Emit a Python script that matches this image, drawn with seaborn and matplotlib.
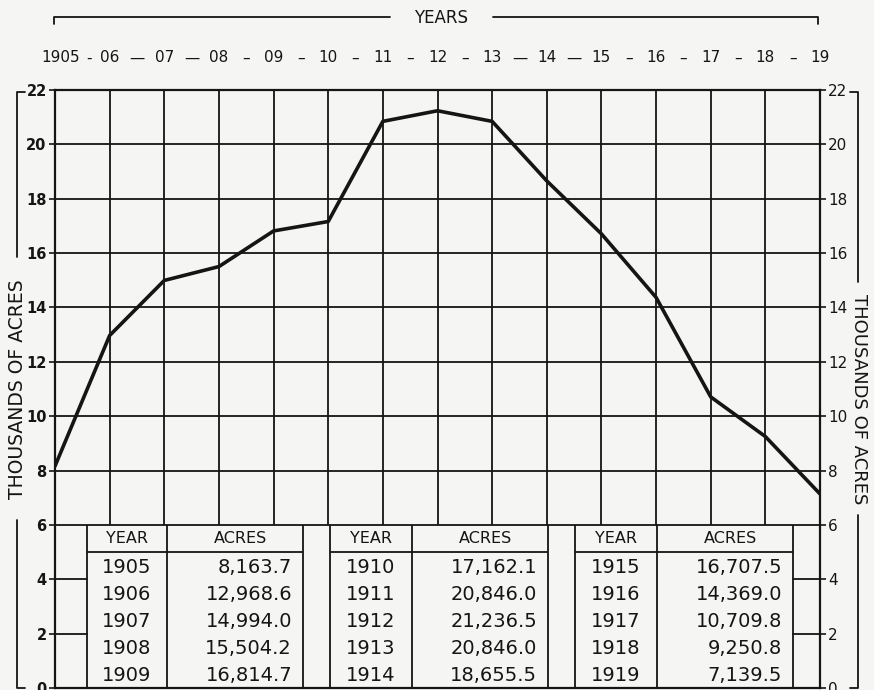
import numpy as np
import pandas as pd
import seaborn as sns
import matplotlib.pyplot as plt
from matplotlib.lines import Line2D
import matplotlib.transforms as mtransforms

# acreage by year, as given in the table on the chart
years = [1905, 1906, 1907, 1908, 1909, 1910, 1911, 1912,
         1913, 1914, 1915, 1916, 1917, 1918, 1919]
acres = [8163.7, 12968.6, 14994.0, 15504.2, 16814.7, 17162.1, 20846.0, 21236.5,
         20846.0, 18655.5, 16707.5, 14369.0, 10709.8, 9250.8, 7139.5]
acres_text = ["8,163.7", "12,968.6", "14,994.0", "15,504.2", "16,814.7",
              "17,162.1", "20,846.0", "21,236.5", "20,846.0", "18,655.5",
              "16,707.5", "14,369.0", "10,709.8", "9,250.8", "7,139.5"]
top_labels = ["1905", "06", "07", "08", "09", "10", "11", "12",
              "13", "14", "15", "16", "17", "18", "19"]
separators = ["-", "—", "—", "–", "–", "–", "–", "–", "—", "—", "–", "–", "–", "–"]
y_ticks = list(range(0, 23, 2))

INK = "#151515"
PAPER = "#f5f5f3"

sns.set_style("white")
plt.rcParams['font.family'] = ['DejaVu Sans']

W, H = 874, 690
fig = plt.figure(figsize=(W / 100, H / 100), dpi=100, facecolor=PAPER)
# axes box in pixels: left 55, right 820, top 90, bottom 688
ax = fig.add_axes([55 / W, 1 - 688 / H, (820 - 55) / W, (688 - 90) / H])
ax.set_facecolor(PAPER)

df = pd.DataFrame({"year": years, "thousands": np.array(acres) / 1000})

ax.set_xlim(years[0], years[-1])
ax.set_ylim(0, 22)

# grid: full above 6, only side strips below 6
strip_l = (1905.586 - years[0]) / (years[-1] - years[0])
strip_r = (1918.507 - years[0]) / (years[-1] - years[0])
for y in y_ticks[1:-1]:
    if y >= 6:
        ax.axhline(y, color=INK, lw=1.3, zorder=1)
    else:
        ax.axhline(y, xmax=strip_l, color=INK, lw=1.3, zorder=1)
        ax.axhline(y, xmin=strip_r, color=INK, lw=1.3, zorder=1)
ax.vlines(years[1:-1], 6, 22, color=INK, lw=1.3, zorder=1)

sns.lineplot(data=df, x="year", y="thousands", color=INK, lw=2.6, ax=ax, zorder=3)

# data table in the lower band
blocks = [(1905.586, 1907.050, 1909.539),
          (1910.033, 1911.534, 1914.023),
          (1914.517, 1916.018, 1918.507)]
for b, (x0, x1, x2) in enumerate(blocks):
    ax.vlines([x0, x1, x2], 0, 6, color=INK, lw=1.3, zorder=2)
    ax.hlines(5, x0, x2, color=INK, lw=1.3, zorder=2)
    ax.text((x0 + x1) / 2, 5.5, "YEAR", ha="center", va="center",
            fontsize=11.5, color=INK)
    ax.text((x1 + x2) / 2 + 0.1, 5.5, "ACRES", ha="center", va="center",
            fontsize=11.5, color=INK)
    for r in range(5):
        i = b * 5 + r
        ax.text((x0 + x1) / 2, 4.45 - r, str(years[i]), ha="center", va="center",
                fontsize=14, color=INK)
        ax.text(x2 - 0.2, 4.45 - r, acres_text[i], ha="right", va="center",
                fontsize=14, color=INK)

# axes styling
for s in ax.spines.values():
    s.set_color(INK)
    s.set_linewidth(1.6)
ax.set_yticks(y_ticks)
ax.set_yticklabels([str(v) for v in y_ticks])
ax.tick_params(axis="y", left=True, right=True, labelleft=True, labelright=True,
               direction="out", length=4, width=1.2, color=INK, labelsize=10.5,
               labelcolor=INK, pad=2)
for t in ax.yaxis.get_major_ticks():
    t.label1.set_fontweight("bold")
    t.label2.set_fontweight("normal")
    t.label2.set_fontsize(11)
ax.set_xticks(years)
ax.set_xticklabels([])
ax.tick_params(axis="x", top=False, bottom=False, length=0)
ax.set_xlabel("")
ax.set_ylabel("")

# year labels and separators above the grid
trans = mtransforms.blended_transform_factory(ax.transData, ax.transAxes)
for k, lab in enumerate(top_labels):
    ax.text(years[k] + (0.1 if k == 0 else 0), 1.046, lab, transform=trans,
            ha="center", va="baseline", fontsize=11, color=INK, clip_on=False)
for k, sep in enumerate(separators):
    ax.text((years[k] + years[k + 1]) / 2 + (0.12 if k == 0 else 0), 1.046, sep,
            transform=trans, ha="center", va="baseline", fontsize=11, color=INK,
            clip_on=False)


def fig_line(xs, ys):
    fig.add_artist(Line2D([x / W for x in xs], [1 - y / H for y in ys],
                          color=INK, lw=1.3, transform=fig.transFigure))


# "YEARS" bracket
fig_line([54, 54, 390], [24, 17, 17])
fig_line([493, 818, 818], [17, 17, 24])
fig.text(441 / W, 1 - 18 / H, "YEARS", ha="center", va="center",
         fontsize=12, color=INK)

# left label bracket
fig_line([25, 17, 17], [92, 92, 257])
fig_line([17, 17, 25], [520, 688, 688])
fig.text(18 / W, 1 - 389 / H, "THOUSANDS OF ACRES", rotation=90,
         ha="center", va="center", fontsize=13.5, color=INK)

# right label bracket
fig_line([850, 858, 858], [92, 92, 282])
fig_line([858, 858, 850], [515, 688, 688])
fig.text(859 / W, 1 - 399 / H, "THOUSANDS OF ACRES", rotation=-90,
         ha="center", va="center", fontsize=13, color=INK)

fig.savefig("out.png", dpi=100, facecolor=PAPER)
